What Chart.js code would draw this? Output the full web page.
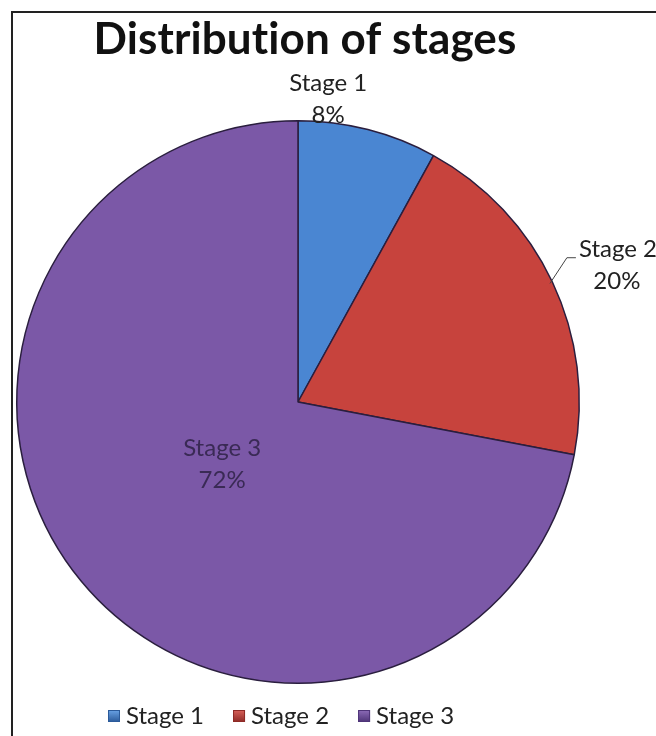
<!DOCTYPE html>
<html>
<head>
<meta charset="utf-8">
<style>
html,body{margin:0;padding:0;background:#fff;}
#wrap{position:relative;width:656px;height:736px;overflow:hidden;}
canvas{display:block;font-variant-ligatures:none;}
</style>
<script src="https://cdn.jsdelivr.net/npm/chart.js@4.4.1/dist/chart.umd.min.js"></script>
</head>
<body>
<div id="wrap"><canvas id="c" width="656" height="736"></canvas></div>
<script>
// ---- data ----
const categories = ['Stage 1', 'Stage 2', 'Stage 3'];
const percentages = [8, 20, 72];
const chartTitle = 'Distribution of stages';

// ---- style ----
const baseColors = ['#4a86d2', '#c7433d', '#7b58a7'];
const lightColors = ['#6aa3e6', '#d9615a', '#8d6cb8'];
const darkColors = ['#2b5a9a', '#8e2a26', '#4e3478'];
const FONT = 'Lato, "Open Sans", "DejaVu Sans", sans-serif';

function sliceGradient(ctx) {
  const chart = ctx.chart;
  const i = ctx.dataIndex;
  const meta = chart.getDatasetMeta(0);
  const arc = meta.data[i];
  if (!chart.chartArea || !arc || !arc.outerRadius) return baseColors[i];
  const g = chart.ctx.createRadialGradient(arc.x, arc.y, 0, arc.x, arc.y, arc.outerRadius);
  g.addColorStop(0, lightColors[i]);
  g.addColorStop(0.55, baseColors[i]);
  g.addColorStop(0.93, baseColors[i]);
  g.addColorStop(1, darkColors[i]);
  return g;
}

const framePlugin = {
  id: 'frame',
  beforeDraw(chart) {
    const c = chart.ctx;
    c.save();
    c.fillStyle = '#fff';
    c.fillRect(0, 0, chart.width, chart.height);
    c.strokeStyle = '#222';
    c.lineWidth = 2;
    c.beginPath();
    c.moveTo(12, chart.height + 5);
    c.lineTo(12, 12);
    c.lineTo(chart.width + 5, 12);
    c.stroke();
    // title (no ligatures, like the reference)
    c.fillStyle = '#111';
    c.font = 'bold 44px ' + FONT;
    if ('textRendering' in c) c.textRendering = 'optimizeSpeed';
    if ('letterSpacing' in c) c.letterSpacing = '0.1px';
    c.textAlign = 'center';
    c.textBaseline = 'middle';
    c.fillText(chartTitle, 305, 40);
    c.restore();
  }
};

const labelPlugin = {
  id: 'sliceLabels',
  afterDatasetsDraw(chart) {
    const c = chart.ctx;
    const meta = chart.getDatasetMeta(0);
    const R = meta.data[0].outerRadius;
    c.save();
    c.font = '24px ' + FONT;
    c.textAlign = 'center';
    c.textBaseline = 'middle';
    // placement per slice: radius factor, angle shift (deg)
    const place = [
      {r: 1.08, shift: -8.7, inside: false},
      {r: 1.22, shift: 1.8, inside: false, leader: true},
      {r: 0.35, shift: 0, inside: true}
    ];
    meta.data.forEach((arc, i) => {
      const p = place[i];
      const mid = (arc.startAngle + arc.endAngle) / 2 + p.shift * Math.PI / 180;
      const x = arc.x + Math.cos(mid) * R * p.r;
      const y = arc.y + Math.sin(mid) * R * p.r;
      c.fillStyle = p.inside ? '#3a2a55' : '#222';
      if (p.leader) {
        const m0 = (arc.startAngle + arc.endAngle) / 2;
        const ex = arc.x + Math.cos(m0) * R * 0.99;
        const ey = arc.y + Math.sin(m0) * R * 0.99;
        c.strokeStyle = '#444';
        c.lineWidth = 1;
        c.beginPath();
        c.moveTo(ex, ey);
        c.lineTo(x - 46, y - 8);
        c.lineTo(x - 37, y - 8);
        c.stroke();
        c.textAlign = 'left';
        c.fillText(categories[i], x - 34, y - 16);
        c.textAlign = 'center';
        c.fillText(percentages[i] + '%', x + 4, y + 16);
      } else {
        c.fillText(categories[i], x, y - 16);
        c.fillText(percentages[i] + '%', x, y + 16);
      }
    });
    c.restore();
  }
};

const legendPlugin = {
  id: 'customLegend',
  afterDraw(chart) {
    const c = chart.ctx;
    c.save();
    c.font = '24px ' + FONT;
    c.textBaseline = 'middle';
    c.textAlign = 'left';
    const y = 716;
    let x = 108;
    categories.forEach((name, i) => {
      const g = c.createLinearGradient(x, y - 6, x, y + 6);
      g.addColorStop(0, lightColors[i]);
      g.addColorStop(1, darkColors[i]);
      c.fillStyle = g;
      c.fillRect(x, y - 6, 12, 12);
      c.strokeStyle = darkColors[i];
      c.lineWidth = 1;
      c.strokeRect(x + 0.5, y - 5.5, 11, 11);
      c.fillStyle = '#222';
      c.fillText(name, x + 18, y);
      x += 18 + c.measureText(name).width + 29;
    });
    c.restore();
  }
};

new Chart(document.getElementById('c'), {
  type: 'pie',
  data: {
    labels: categories,
    datasets: [{
      data: percentages,
      backgroundColor: sliceGradient,
      borderColor: '#2a1e3e',
      borderWidth: 1.5
    }]
  },
  options: {
    responsive: false,
    animation: false,
    events: [],
    layout: {padding: {left: 16, right: 76, top: 120, bottom: 52}},
    plugins: {
      legend: {display: false},
      title: {display: false},
      tooltip: {enabled: false}
    }
  },
  plugins: [framePlugin, labelPlugin, legendPlugin]
});
</script>
</body>
</html>
